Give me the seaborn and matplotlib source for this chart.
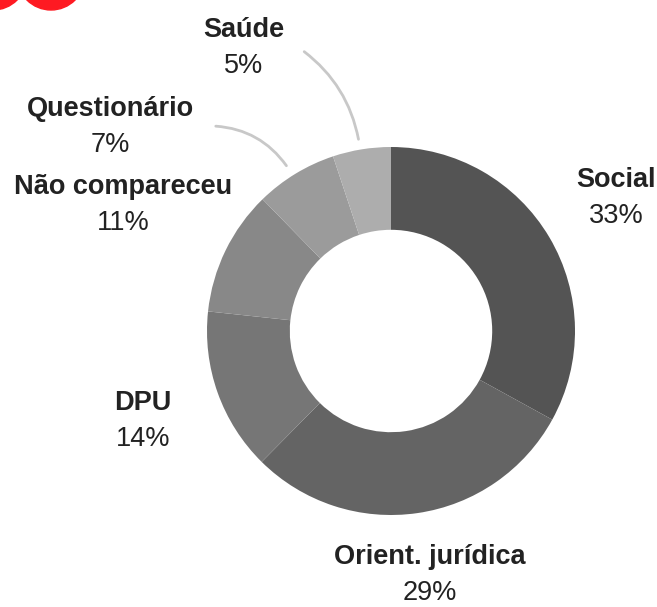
import matplotlib.pyplot as plt
import seaborn as sns
from matplotlib.patches import Circle

categories = ["Social", "Orient. jurídica", "DPU", "Não compareceu", "Questionário", "Saúde"]
shares = [33.0, 29.4, 14.3, 11.0, 7.2, 5.1]
colors = ["#545454", "#646464", "#767676", "#888888", "#9b9b9b", "#adadad"]

# label anchors (pixels from top-left)
label_pos = [(616, 180), (430, 557), (143, 403), (123, 187), (110, 109), (244, 30)]

W, H = 657, 607
sns.set_theme(style="white")
plt.rcParams["font.family"] = ["Liberation Sans", "DejaVu Sans"]

fig = plt.figure(figsize=(W / 100, H / 100), dpi=100)
ax = fig.add_axes([0, 0, 1, 1])

cx, cy, R = 391, 331, 184
ax.pie(
    shares,
    colors=colors,
    startangle=90,
    counterclock=False,
    center=(cx, H - cy),
    radius=R,
    wedgeprops=dict(width=R * 0.45, linewidth=0),
)
ax.set_xlim(0, W)
ax.set_ylim(0, H)
ax.set_aspect("equal")
ax.axis("off")

for name, v, (x, y) in zip(categories, shares, label_pos):
    ax.text(x, H - y, name, ha="center", va="center", fontsize=19.5,
            fontweight="bold", color="#222222")
    ax.text(x, H - y - 36, f"{v:.0f}%", ha="center", va="center",
            fontsize=19.5, color="#222222")

# leader lines for the small slices
ax.annotate("", xy=(359, H - 142), xytext=(302, H - 50),
            arrowprops=dict(arrowstyle="-", color="#c8c8c8", lw=2,
                            connectionstyle="arc3,rad=-0.2"))
ax.annotate("", xy=(288, H - 168), xytext=(213, H - 126),
            arrowprops=dict(arrowstyle="-", color="#c8c8c8", lw=2,
                            connectionstyle="arc3,rad=-0.25"))

# red decoration cut off at the top-left corner
for x0 in (-7, 51):
    ax.add_patch(Circle((x0, H + 24), 34, color="#fe1a22", clip_on=True))

fig.savefig("out.png", dpi=100)
